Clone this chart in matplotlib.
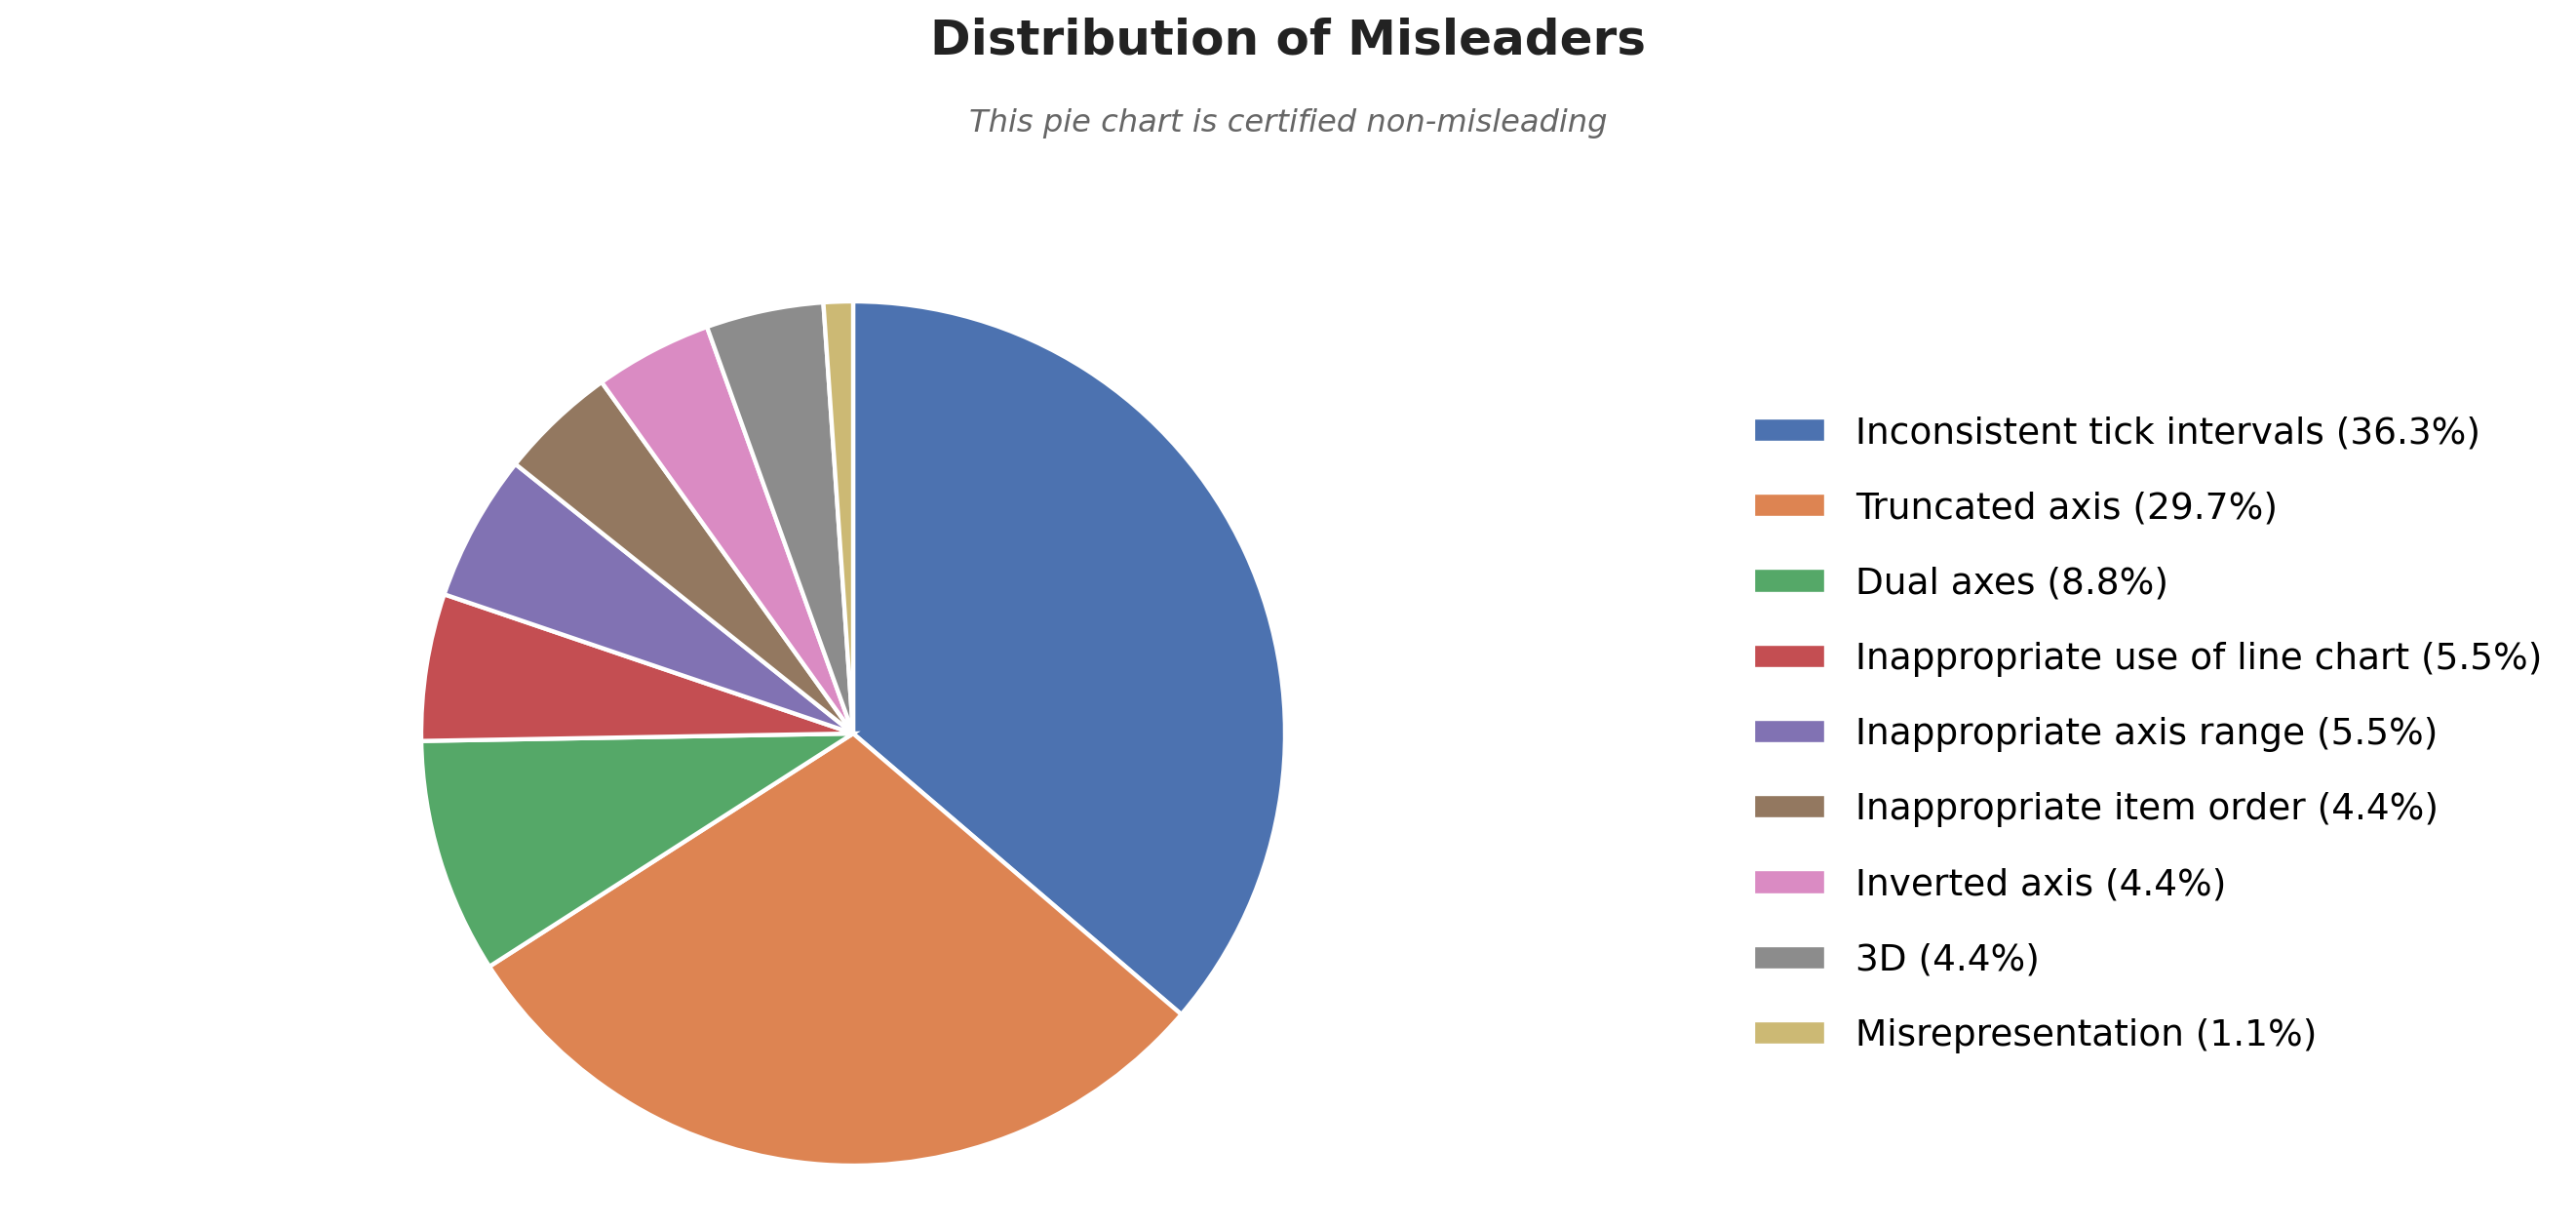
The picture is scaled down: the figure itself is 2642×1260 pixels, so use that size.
import matplotlib
matplotlib.use("Agg")
import matplotlib.pyplot as plt
import seaborn as sns

# counts per misleader type (shares of 91)
categories = [
    "Inconsistent tick intervals",
    "Truncated axis",
    "Dual axes",
    "Inappropriate use of line chart",
    "Inappropriate axis range",
    "Inappropriate item order",
    "Inverted axis",
    "3D",
    "Misrepresentation",
]
counts = [33, 27, 8, 5, 5, 4, 4, 4, 1]

total = sum(counts)
labels = [f"{c} ({n / total * 100:.1f}%)" for c, n in zip(categories, counts)]
colors = sns.color_palette("deep", len(counts))

W, H, DPI = 2642, 1260, 225
fig = plt.figure(figsize=(W / DPI, H / DPI), dpi=DPI)

# pie axes placed in pixels: centre (875, 752), radius 443
cx, cy, r = 875, 752, 443
ax = fig.add_axes([(cx - r) / W, (H - cy - r) / H, 2 * r / W, 2 * r / H])
wedges, _ = ax.pie(counts, colors=colors, startangle=90, counterclock=False,
                   wedgeprops=dict(edgecolor="white", linewidth=1.4))
ax.set_xlim(-1, 1)
ax.set_ylim(-1, 1)
ax.set_aspect("equal")
ax.axis("off")

fig.text(0.5, 1 - 42 / H, "Distribution of Misleaders", ha="center", va="center",
         fontsize=16, fontweight="bold", color="#222222")
fig.text(0.5, 1 - 126 / H, "This pie chart is certified non-misleading", ha="center",
         va="center", fontsize=10.3, style="italic", color="#666666")

fig.legend(wedges, labels, loc="center left", bbox_to_anchor=(1764 / W, 1 - 753 / H),
           frameon=False, fontsize=12, labelspacing=1.1, handlelength=2.0)

fig.savefig("out.png", dpi=DPI, facecolor="white")
